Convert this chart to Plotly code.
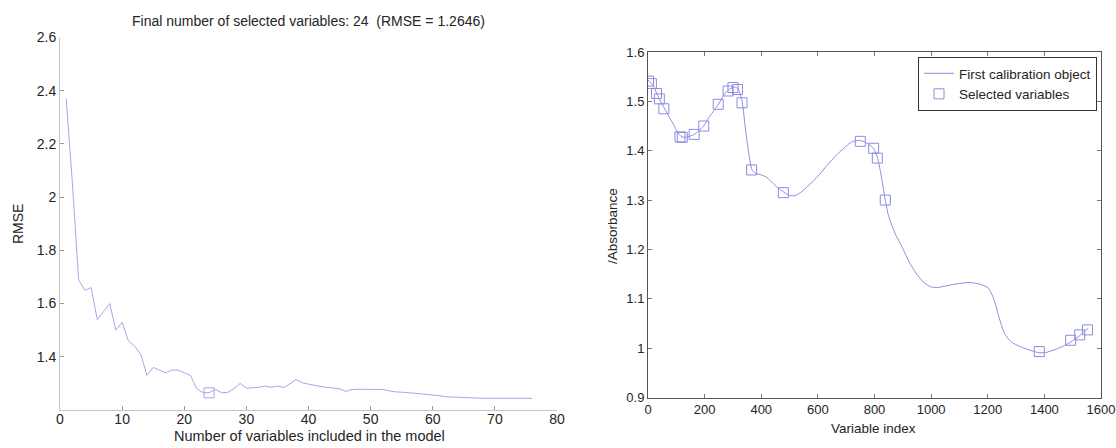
import plotly.graph_objects as go

# ---------------- data ----------------
n_vars = list(range(1, 77))
rmse = [2.37, 2.05, 1.69, 1.65, 1.66, 1.54, 1.57, 1.60, 1.50, 1.53,
        1.46, 1.44, 1.41, 1.33, 1.36, 1.35, 1.34, 1.35, 1.35, 1.34,
        1.33, 1.28, 1.266, 1.2646, 1.278, 1.265, 1.266, 1.28, 1.30, 1.282,
        1.283, 1.285, 1.29, 1.285, 1.29, 1.284, 1.298, 1.315, 1.302, 1.297,
        1.293, 1.288, 1.285, 1.283, 1.28, 1.27, 1.277, 1.278, 1.278, 1.278,
        1.278, 1.277, 1.272, 1.268, 1.267, 1.266, 1.263, 1.261, 1.259, 1.257,
        1.254, 1.25, 1.249, 1.248, 1.245, 1.244, 1.244, 1.244, 1.244, 1.244,
        1.244, 1.244, 1.244, 1.244, 1.244, 1.244]
best_n = [24]
best_rmse = [1.2646]

spec_idx = [0, 10, 20, 30, 40, 57, 75, 90, 105, 115, 125, 140, 160, 180, 195,
            215, 235, 250, 270, 285, 300, 312, 322, 333, 345, 357, 367, 380,
            400, 420, 443, 465, 480, 500, 520, 545, 570, 600, 632, 665, 696,
            720, 745, 760, 780, 797, 810, 822, 838, 850, 873, 898, 923, 949,
            974, 1000, 1025, 1060, 1100, 1138, 1176, 1202, 1221, 1240, 1259,
            1284, 1328, 1379, 1404, 1442, 1480, 1518, 1543, 1555]
spec_abs = [1.543, 1.538, 1.530, 1.517, 1.505, 1.487, 1.468, 1.453, 1.437, 1.430,
            1.427, 1.428, 1.432, 1.441, 1.449, 1.467, 1.483, 1.495, 1.515, 1.523,
            1.529, 1.528, 1.521, 1.498, 1.44, 1.39, 1.362, 1.354, 1.351, 1.346,
            1.333, 1.322, 1.316, 1.309, 1.309, 1.318, 1.331, 1.348, 1.370, 1.391,
            1.407, 1.418, 1.421, 1.419, 1.413, 1.404, 1.387, 1.355, 1.300, 1.267,
            1.232, 1.204, 1.174, 1.150, 1.133, 1.124, 1.123, 1.127, 1.131, 1.133,
            1.129, 1.122, 1.100, 1.062, 1.030, 1.012, 1.000, 0.991, 0.991, 0.998,
            1.008, 1.022, 1.035, 1.040]

sel_idx = [2, 12, 30, 40, 56, 113, 121, 163, 197, 248, 283, 300, 316, 332,
           366, 478, 750, 797, 810, 838, 1382, 1493, 1525, 1552]
sel_abs = [1.541, 1.536, 1.516, 1.505, 1.485, 1.428, 1.427, 1.433, 1.450, 1.494,
           1.521, 1.528, 1.524, 1.497, 1.361, 1.315, 1.419, 1.405, 1.385, 1.300,
           0.993, 1.016, 1.027, 1.037]

left_xticks = [0, 10, 20, 30, 40, 50, 60, 70, 80]
left_yticks = [1.4, 1.6, 1.8, 2.0, 2.2, 2.4, 2.6]
left_ytext = ["1.4", "1.6", "1.8", "2", "2.2", "2.4", "2.6"]
right_xticks = [0, 200, 400, 600, 800, 1000, 1200, 1400, 1600]
right_yticks = [0.9, 1.0, 1.1, 1.2, 1.3, 1.4, 1.5, 1.6]
right_ytext = ["0.9", "1", "1.1", "1.2", "1.3", "1.4", "1.5", "1.6"]

title_text = "Final number of selected variables: 24  (RMSE = 1.2646)"

# ---------------- figure ----------------
W, H = 1116, 448
FONT = "Liberation Sans, Arial, Helvetica, sans-serif"
TXT = "#252525"
LEFT_BLUE = "#a6a6ec"
RIGHT_BLUE = "#8c8ce2"

fig = go.Figure()
fig.add_trace(go.Scatter(x=n_vars, y=rmse, mode="lines",
                         line=dict(color=LEFT_BLUE, width=1),
                         showlegend=False, xaxis="x", yaxis="y"))
fig.add_trace(go.Scatter(x=best_n, y=best_rmse, mode="markers",
                         marker=dict(symbol="square-open", size=10,
                                     color=LEFT_BLUE, line=dict(width=1)),
                         showlegend=False, xaxis="x", yaxis="y"))
fig.add_trace(go.Scatter(x=spec_idx, y=spec_abs, mode="lines",
                         line=dict(color=RIGHT_BLUE, width=1, shape="spline", smoothing=0.6),
                         name="First calibration object", xaxis="x2", yaxis="y2"))
fig.add_trace(go.Scatter(x=sel_idx, y=sel_abs, mode="markers",
                         marker=dict(symbol="square-open", size=10,
                                     color=RIGHT_BLUE, line=dict(width=1)),
                         name="Selected variables", xaxis="x2", yaxis="y2"))

def px_x(v):
    return v / W

def px_y(v):
    return 1 - v / H

lax = dict(showgrid=False, zeroline=False, showline=True, linecolor="#c4c4c4",
           linewidth=1, ticks="inside", ticklen=4, tickcolor="#9a9a9a",
           tickfont=dict(family=FONT, size=14, color=TXT), automargin=False)
rax = dict(showgrid=False, zeroline=False, showline=True, linecolor="#555555",
           linewidth=1, ticks="inside", ticklen=4, tickcolor="#777777", mirror="ticks",
           tickfont=dict(family=FONT, size=13, color=TXT), automargin=False)

fig.update_layout(
    width=W, height=H,
    margin=dict(l=0, r=0, t=0, b=0),
    paper_bgcolor="white", plot_bgcolor="white",
    xaxis=dict(lax, domain=[px_x(60), px_x(557)], range=[0, 80],
               tickvals=left_xticks, anchor="y", ticklabelstandoff=-4),
    yaxis=dict(lax, domain=[px_y(410), px_y(37.5)], range=[1.2, 2.6],
               tickvals=left_yticks, ticktext=left_ytext, anchor="x"),
    xaxis2=dict(rax, domain=[px_x(648), px_x(1101)], range=[0, 1600],
                tickvals=right_xticks, anchor="y2"),
    yaxis2=dict(rax, domain=[px_y(397.5), px_y(52)], range=[0.9, 1.6],
                tickvals=right_yticks, ticktext=right_ytext, anchor="x2"),
    legend=dict(x=px_x(1097), xanchor="right", y=px_y(57), yanchor="top",
                bgcolor="white", bordercolor="#333333", borderwidth=1,
                font=dict(family=FONT, size=13.5, color=TXT),
                tracegroupgap=0),
    showlegend=True,
)

ann = dict(xref="paper", yref="paper", showarrow=False,
           font=dict(family=FONT, color=TXT))
fig.add_annotation(ann, x=px_x(308), y=px_y(21), text=title_text,
                   xanchor="center", yanchor="middle", font_size=14)
fig.add_annotation(ann, x=px_x(309), y=px_y(436),
                   text="Number of variables included in the model",
                   xanchor="center", yanchor="middle", font_size=14.5)
fig.add_annotation(ann, x=px_x(18), y=px_y(224), text="RMSE", textangle=-90,
                   xanchor="center", yanchor="middle", font_size=14)
fig.add_annotation(ann, x=px_x(873), y=px_y(428), text="Variable index",
                   xanchor="center", yanchor="middle", font_size=13.5)
fig.add_annotation(ann, x=px_x(612), y=px_y(226), text="/Absorbance", textangle=-90,
                   xanchor="center", yanchor="middle", font_size=13.5)

fig.write_html("out.html")
